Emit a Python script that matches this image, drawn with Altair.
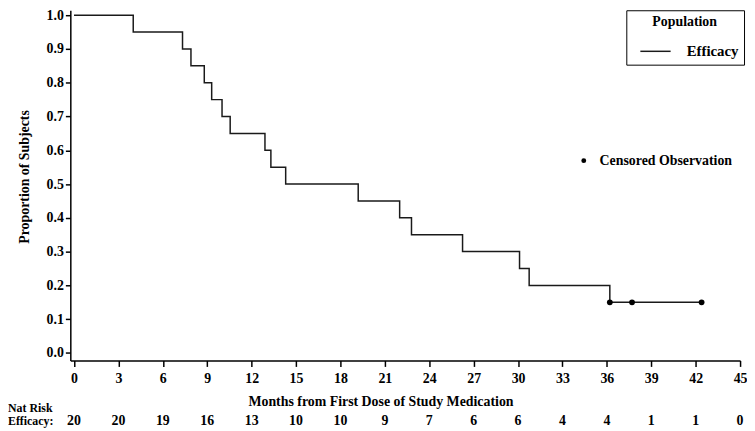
import altair as alt
import pandas as pd

# Kaplan-Meier step data
months = [0, 4.0, 7.33, 7.9, 8.8, 9.3, 10.0, 10.55, 12.9, 13.3, 14.3, 19.2,
          22.0, 22.8, 26.25, 30.1, 30.75, 36.2, 42.4]
survival = [1.0, 0.95, 0.90, 0.85, 0.80, 0.75, 0.70, 0.65, 0.60, 0.55, 0.50,
            0.45, 0.40, 0.35, 0.30, 0.25, 0.20, 0.15, 0.15]
censor_months = [36.2, 37.7, 42.4]
censor_surv = [0.15, 0.15, 0.15]
risk_months = [0, 3, 6, 9, 12, 15, 18, 21, 24, 27, 30, 33, 36, 39, 42, 45]
risk_counts = [20, 20, 19, 16, 13, 10, 10, 9, 7, 6, 6, 4, 4, 1, 1, 0]
x_ticks = list(range(0, 46, 3))
y_ticks = [0.0, 0.1, 0.2, 0.3, 0.4, 0.5, 0.6, 0.7, 0.8, 0.9, 1.0]

FONT = "Liberation Serif"
FS = 14
INK = "#1a1a1a"

km = pd.DataFrame({"t": months, "s": survival, "pop": "Efficacy"})
cens = pd.DataFrame({"t": censor_months, "s": censor_surv, "c": "Censored Observation"})
risk = pd.DataFrame({"t": risk_months, "n": risk_counts})

xscale = alt.Scale(domain=[-0.25, 45], nice=False, zero=False)
yscale = alt.Scale(domain=[-0.0223, 1.0146], nice=False, zero=False)

xaxis = alt.Axis(values=x_ticks, title="Months from First Dose of Study Medication",
                 titleX=313.5, titleY=42, titleBaseline="middle", titleAlign="center",
                 tickSize=6, labelPadding=5, grid=False, labelOverlap=False,
                 labelFlush=False)
yaxis = alt.Axis(values=y_ticks, tickCount=11, format=".1f", title="Proportion of Subjects",
                 titleX=-46, titleY=168, titleBaseline="middle", titleAlign="center",
                 tickSize=5, labelPadding=2, grid=False, labelOverlap=False,
                 labelFlush=False)

X = alt.X("t:Q", scale=xscale, axis=xaxis)
Y = alt.Y("s:Q", scale=yscale, axis=yaxis)

line = alt.Chart(km).mark_line(interpolate="step-after", strokeWidth=1.5).encode(
    x=X,
    y=Y,
    color=alt.Color("pop:N", scale=alt.Scale(range=[INK]),
                    legend=alt.Legend(orient="none", legendX=562, legendY=0,
                                      title="Population", titleAnchor="middle",
                                      titleFont=FONT, titleFontSize=FS, titleFontWeight="bold",
                                      titleColor="black", titlePadding=6,
                                      labelFont=FONT, labelFontSize=15, labelFontWeight="bold",
                                      labelColor="black", labelOffset=15,
                                      symbolType="stroke", symbolSize=936,
                                      symbolStrokeWidth=1.5, symbolOffset=8,
                                      strokeColor="black", padding=5, fillColor="white")),
)

points = alt.Chart(cens).mark_point(filled=True, size=34, opacity=1, color="black").encode(
    x=X,
    y=Y,
    shape=alt.Shape("c:N", scale=alt.Scale(range=["circle"]),
                    legend=alt.Legend(orient="none", legendX=512, legendY=145,
                                      title=None, padding=0,
                                      labelFont=FONT, labelFontSize=FS, labelFontWeight="bold",
                                      labelColor="black", labelOffset=9,
                                      symbolSize=24, symbolFillColor="black",
                                      symbolStrokeColor="black")),
)

risk_text = alt.Chart(risk).mark_text(font=FONT, fontSize=FS, fontWeight="bold",
                                      baseline="middle", color="black").encode(
    x="t:Q",
    y=alt.value(415.3),
    text="n:Q",
)

nat_label = alt.Chart(pd.DataFrame({"lab": ["Nat Risk"]})).mark_text(
    font=FONT, fontSize=12, fontWeight="bold", align="left", baseline="middle", color="black"
).encode(x=alt.value(-63), y=alt.value(402), text="lab:N")

eff_label = alt.Chart(pd.DataFrame({"lab": ["Efficacy:"]})).mark_text(
    font=FONT, fontSize=12, fontWeight="bold", align="left", baseline="middle", color="black"
).encode(x=alt.value(-63), y=alt.value(415.3), text="lab:N")

chart = alt.layer(line, points, risk_text, nat_label, eff_label).resolve_legend(
    color="independent", shape="independent"
).properties(
    width=677, height=354,
    autosize=alt.AutoSizeParams(type="none"),
    padding={"left": 63, "top": 0, "right": 7, "bottom": 68},
).configure_view(stroke=None).configure_axis(
    domainColor="black", domainWidth=1.5, tickColor="black", tickWidth=1.5,
    labelFont=FONT, labelFontSize=FS, labelFontWeight="bold", labelColor="black",
    titleFont=FONT, titleFontSize=FS, titleFontWeight="bold", titleColor="black",
)

chart.save("out.html", embed_options={"renderer": "svg", "actions": False})
